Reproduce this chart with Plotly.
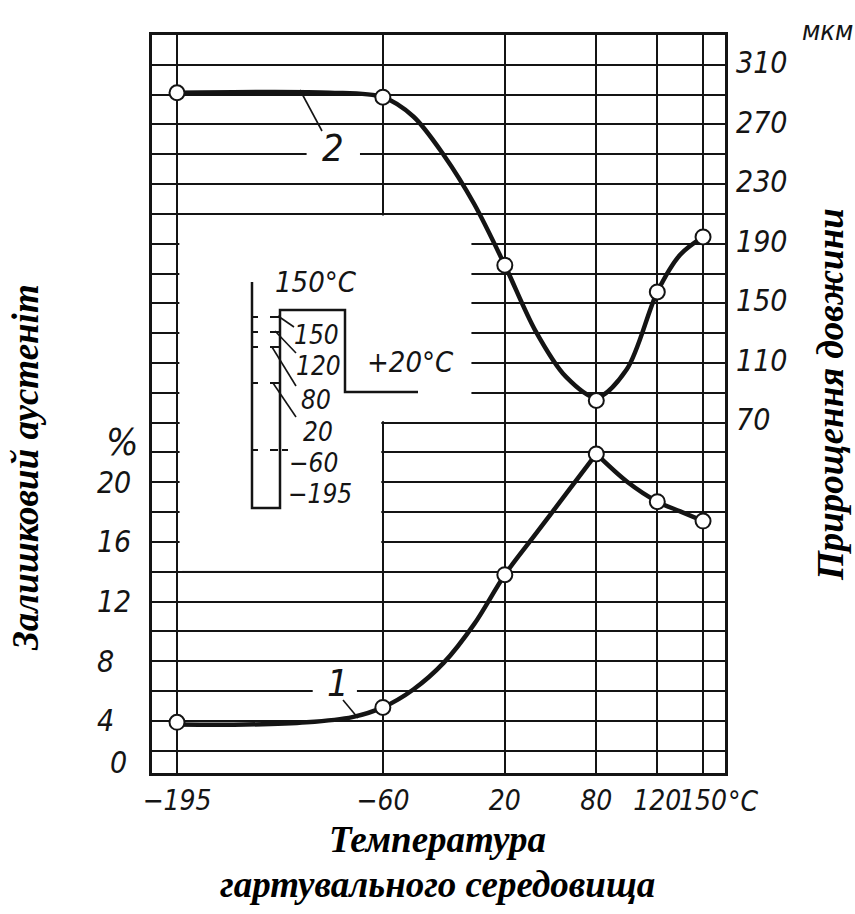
import plotly.graph_objects as go

# ---------------- data ----------------
temps = [-195, -60, 20, 80, 120, 150]
austenite_pct = [3.9, 4.9, 13.8, 21.9, 18.7, 17.4]          # curve 1, left axis (%)
elongation_um = [290, 287, 174, 83, 156, 193]               # curve 2, right axis (мкм)

# points
curve1_t = [-195, -150, -110, -80, -60, -40, -20, 0, 20, 40, 60, 80, None, 80, 100, 120, 135, 150]
curve1_v = [3.75, 3.75, 3.9, 4.25, 4.9, 6.1, 7.9, 10.5, 13.8, 16.5, 19.2, 21.9, None, 21.9, 20.05, 18.7, 18.05, 17.4]
curve2_t = [-195, -140, -95, -60, -40, -20, 0, 20, 40, 60, 80, 100, 120, 135, 150]
curve2_v = [290, 290.5, 290, 287, 274, 248, 215, 174, 130, 99, 85, 104, 156, 181, 193]

x_ticks = [-195, -60, 20, 80, 120, 150]
x_ticktext = ["−195", "−60", "20", "80", "120", "150"]
pct_ticks = [4, 8, 12, 16, 20]
pct_ticktext = ["4\u2007", "8\u2007", "12", "16", "20"]
um_ticks = [70, 110, 150, 190, 230, 270, 310]
inset_levels = ["150", "120", "80", "20", "−60", "−195"]

# ---------------- layout geometry ----------------
W, H = 855, 914
L, R, T, B = 152, 130, 35, 141
PW = W - L - R
PH = H - T - B

def fx(p):
    return (p - L) / PW

def fy(p):
    return (H - B - p) / PH

INK = "#141414"
TECH = "Liberation Sans Narrow, DejaVu Sans Condensed, Liberation Sans, sans-serif"
tick_font = dict(family=TECH, size=30, color=INK, style="italic")
xtick_font = dict(family=TECH, size=28, color=INK, style="italic")
title_font = dict(family="Liberation Serif, Times New Roman, serif", size=37,
                  color="black", weight="bold", style="italic")

fig = go.Figure()
fig.add_trace(go.Scatter(x=curve1_t, y=curve1_v, mode="lines", yaxis="y",
                         line=dict(color=INK, width=4.5, shape="spline", smoothing=0.9),
                         connectgaps=False, hoverinfo="skip", showlegend=False))
fig.add_trace(go.Scatter(x=temps, y=austenite_pct, mode="markers", yaxis="y",
                         marker=dict(size=15, color="white", line=dict(color=INK, width=2)),
                         showlegend=False))
fig.add_trace(go.Scatter(x=curve2_t, y=curve2_v, mode="lines", yaxis="y2",
                         line=dict(color=INK, width=4.5, shape="spline", smoothing=0.9),
                         hoverinfo="skip", showlegend=False))
fig.add_trace(go.Scatter(x=temps, y=elongation_um, mode="markers", yaxis="y2",
                         marker=dict(size=15, color="white", line=dict(color=INK, width=2)),
                         showlegend=False))

shapes = []
# blank (no-grid) areas of the drawing around the inset
shapes.append(dict(type="rect", xref="x", yref="y", x0=-193.3, x1=-1.9, y0=24.1, y1=37.9,
                   fillcolor="white", line=dict(width=0), layer="between"))
shapes.append(dict(type="rect", xref="x", yref="y", x0=-193.3, x1=-61.0, y0=14.1, y1=37.9,
                   fillcolor="white", line=dict(width=0), layer="between"))
# gaps in grid lines behind the curve numbers
shapes.append(dict(type="rect", xref="x", yref="y", x0=-110, x1=-75, y0=41.5, y1=42.5,
                   fillcolor="white", line=dict(width=0), layer="between"))
shapes.append(dict(type="rect", xref="x", yref="y", x0=-106, x1=-77, y0=5.6, y1=6.4,
                   fillcolor="white", line=dict(width=0), layer="between"))
# pasted white patches of the scan
for (a, b, c, d) in [(183, 249, 248, 571), (357, 416, 235, 328)]:
    shapes.append(dict(type="rect", xref="paper", yref="paper", x0=fx(a), x1=fx(b), y0=fy(d), y1=fy(c),
                       fillcolor="white", line=dict(color="#e6e6e6", width=1.5), layer="between"))

def seg(x0, y0, x1, y1, w=2.5, dash=None):
    ln = dict(color=INK, width=w)
    if dash:
        ln["dash"] = dash
    shapes.append(dict(type="line", xref="paper", yref="paper", x0=fx(x0), y0=fy(y0),
                       x1=fx(x1), y1=fy(y1), line=ln, layer="above"))

# inset schematic
pts = [(252, 282), (252, 508), (280, 508), (280, 310), (345, 310), (345, 392), (418, 392)]
path = "M " + " L ".join(f"{fx(a):.5f},{fy(b):.5f}" for a, b in pts)
shapes.append(dict(type="path", xref="paper", yref="paper", path=path,
                   line=dict(color=INK, width=2.5), layer="above"))
for yy in [317, 332, 347, 383]:
    seg(252, yy, 280, yy, w=2, dash="6px,12px,10px")
seg(252, 450, 289, 450, w=2, dash="6px,12px,8px,4px")
seg(278, 316, 294, 327, w=1.6)
seg(275, 331, 296, 353, w=1.6)
seg(272, 347, 296, 386, w=1.6)
seg(273, 383, 296, 417, w=1.6)
# leaders of curve numbers
seg(300, 90, 322, 131, w=1.6)
seg(343, 700, 358, 718, w=1.6)

annotations = []

def txt(s, x, y, font, xanchor="center", yanchor="middle", angle=0):
    annotations.append(dict(text=s, x=fx(x), y=fy(y), xref="paper", yref="paper",
                            showarrow=False, font=font, xanchor=xanchor, yanchor=yanchor,
                            textangle=angle))

small = dict(family=TECH, size=26, color=INK, style="italic")
mid = dict(family=TECH, size=29, color=INK, style="italic")
big = dict(family=TECH, size=38, color=INK, style="italic")
for s, (x, y) in zip(inset_levels, [(316, 335), (318, 366), (316, 400), (318, 432), (313, 463), (320, 494)]):
    txt(s, x, y, small)
txt("150°C", 316, 282, mid)
txt("+20°C", 410, 362, mid)
txt("2", 333, 148, big)
txt("1", 338, 683, big)
txt("%", 122, 442, dict(family=TECH, size=38, color=INK, style="italic"))
txt("0", 108, 762, tick_font, xanchor="left")
txt("°C", 726, 801, xtick_font, xanchor="left")
txt("мкм", 800, 30, dict(family=TECH, size=27, color=INK, style="italic"), xanchor="left")

txt("Залишковий аустеніт", 25, 468, title_font, angle=-90)
txt("Прирощення довжини", 830, 395, title_font, angle=-90)
txt("Температура", 437, 839, title_font)
txt("гартувального середовища", 437, 884, title_font)

fig.update_layout(
    width=W, height=H,
    margin=dict(l=L, r=R, t=T, b=B, pad=0),
    paper_bgcolor="white", plot_bgcolor="white",
    showlegend=False,
    shapes=shapes, annotations=annotations,
    xaxis=dict(range=[-211.4, 164.4], tickmode="array", tickvals=x_ticks, ticktext=x_ticktext,
               tickangle=0, showgrid=True, gridcolor=INK, gridwidth=2, zeroline=False,
               showline=True, linecolor=INK, linewidth=2.5, mirror=True,
               ticks="", tickfont=xtick_font, ticklabelstandoff=1, fixedrange=True),
    yaxis=dict(range=[0.5, 50], tickmode="array", tickvals=pct_ticks, ticktext=pct_ticktext,
               showgrid=True, gridcolor=INK, gridwidth=2, zeroline=False,
               minor=dict(tick0=0, dtick=2, showgrid=True, gridcolor=INK, gridwidth=2, ticks=""),
               showline=True, linecolor=INK, linewidth=2.5, mirror=True,
               ticks="", tickfont=tick_font, ticklabelstandoff=12, fixedrange=True),
    yaxis2=dict(range=[-167.57, 328.83], overlaying="y", side="right", tickmode="array",
                tickvals=um_ticks, showgrid=False, zeroline=False, showline=False,
                ticks="", tickfont=tick_font, ticklabelstandoff=10, fixedrange=True),
)

fig.write_html("out.html")
